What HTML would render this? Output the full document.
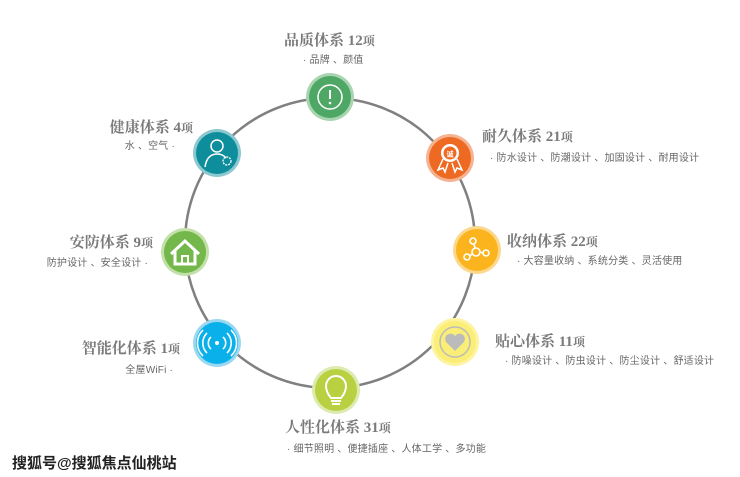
<!DOCTYPE html>
<html><head><meta charset="utf-8"><style>
body{margin:0;width:740px;height:477px;background:#fff;position:relative;overflow:hidden}
.t{position:absolute;font-family:"Liberation Serif","Noto Serif CJK SC",serif;font-weight:bold;font-size:15px;color:#7a7a7a;white-space:nowrap;line-height:18px}
.t small{font-size:12px}
.s{position:absolute;font-family:"Liberation Sans","Noto Sans CJK SC",sans-serif;font-size:10px;letter-spacing:0.2px;color:#666;white-space:nowrap;line-height:12px}
.r{text-align:right}
.wm{position:absolute;left:12px;top:452px;font-family:"Liberation Sans","Noto Sans CJK SC",sans-serif;font-weight:bold;font-size:15px;color:#222;text-shadow:0 0 2px #fff,1px 1px 0 #fff;}
</style></head><body>
<svg width="740" height="477" style="position:absolute;left:0;top:0">
<circle cx="330" cy="243" r="145" fill="none" stroke="#808080" stroke-width="2.5"/>
<circle cx="330" cy="97" r="24" fill="#a8d5b0"/><circle cx="330" cy="97" r="21" fill="#4ea765"/>
<circle cx="330" cy="97" r="12" fill="none" stroke="#fff" stroke-width="1.5"/>
<line x1="330" y1="90" x2="330" y2="99" stroke="#fff" stroke-width="2"/><circle cx="330" cy="103" r="1.3" fill="#fff"/>
<circle cx="217" cy="153" r="24" fill="#8cc8d0"/><circle cx="217" cy="153" r="21" fill="#0e8e9c"/>
<circle cx="217" cy="146" r="6" fill="none" stroke="#fff" stroke-width="1.5"/>
<path d="M205 167 Q207 154 217 154 Q223 154 226 158" fill="none" stroke="#fff" stroke-width="1.5"/>
<circle cx="227" cy="161" r="4" fill="none" stroke="#fff" stroke-width="1.3" stroke-dasharray="2 1"/>
<circle cx="185" cy="252" r="24" fill="#c2e0a8"/><circle cx="185" cy="252" r="21" fill="#74b74a"/>
<path d="M171 254 L185 241 L199 254 M175 251 V264 H195 V251" fill="none" stroke="#fff" stroke-width="3"/>
<rect x="182" y="256" width="6" height="8" fill="none" stroke="#fff" stroke-width="2"/>
<circle cx="217" cy="343" r="24" fill="#9ad8f2"/><circle cx="217" cy="343" r="21" fill="#0ab0ea"/>
<circle cx="217" cy="343" r="2" fill="#fff"/>
<g fill="none" stroke="#fff" stroke-width="1.6">
<path d="M211 337 a8 8 0 0 0 0 12 M223 337 a8 8 0 0 1 0 12"/>
<path d="M207 333 a14 14 0 0 0 0 20 M227 333 a14 14 0 0 1 0 20"/>
<path d="M203 330 a18 18 0 0 0 0 26 M231 330 a18 18 0 0 1 0 26"/></g>
<circle cx="336" cy="390" r="24" fill="#dcebb0"/><circle cx="336" cy="390" r="21" fill="#b9d041"/>
<path d="M331 398 Q326 392 326 386 A10 10 0 1 1 346 386 Q346 392 341 398 Z" fill="none" stroke="#fff" stroke-width="2"/>
<line x1="331" y1="401" x2="341" y2="401" stroke="#fff" stroke-width="2"/><line x1="332" y1="404" x2="340" y2="404" stroke="#fff" stroke-width="2"/>
<circle cx="455" cy="342" r="24" fill="#fdf3a0"/><circle cx="455" cy="342" r="21" fill="#fbee76"/>
<circle cx="455" cy="342" r="15" fill="none" stroke="#bbb" stroke-width="1.5"/>
<path d="M455 351 L446 342 A5 5 0 0 1 455 336 A5 5 0 0 1 464 342 Z" fill="#bbb"/>
<circle cx="477" cy="250" r="24" fill="#fcd88c"/><circle cx="477" cy="250" r="21" fill="#fbb41e"/>
<g fill="none" stroke="#fff" stroke-width="1.6"><circle cx="473" cy="241" r="3"/><circle cx="476" cy="252" r="4"/><circle cx="467" cy="257" r="3"/><circle cx="486" cy="253" r="3"/>
<line x1="474" y1="244" x2="475" y2="248"/><line x1="470" y1="256" x2="472" y2="254"/><line x1="480" y1="252" x2="483" y2="253"/></g>
<circle cx="450" cy="158" r="24" fill="#f6b391"/><circle cx="450" cy="158" r="21" fill="#ee6a22"/>
<circle cx="450" cy="153" r="9" fill="#fff"/><circle cx="450" cy="153" r="6.5" fill="#ee6a22"/>
<path d="M443 159 L438 170 L443 168 L445 172 L448 163 M457 159 L462 170 L457 168 L455 172 L452 163" fill="none" stroke="#fff" stroke-width="1.5"/>
<text x="450" y="156.5" font-size="7" fill="#fff" text-anchor="middle" font-family="Noto Sans CJK SC,sans-serif" font-weight="bold">诚</text>
</svg>
<div class="t" style="left:284px;top:32px">品质体系 12<small>项</small></div>
<div class="s" style="left:303px;top:55px">· 品牌 、颜值</div>
<div class="t r" style="right:547px;top:119px">健康体系 4<small>项</small></div>
<div class="s r" style="right:565px;top:141px">水 、空气 ·</div>
<div class="t r" style="right:587px;top:234px">安防体系 9<small>项</small></div>
<div class="s r" style="right:592px;top:258px">防护设计 、安全设计 ·</div>
<div class="t r" style="right:560px;top:340px">智能化体系 1<small>项</small></div>
<div class="s r" style="right:567px;top:365px">全屋WiFi ·</div>
<div class="t" style="left:285px;top:419px">人性化体系 31<small>项</small></div>
<div class="s" style="left:287px;top:444px">· 细节照明 、便捷插座 、人体工学 、多功能</div>
<div class="t" style="left:495px;top:333px">贴心体系 11<small>项</small></div>
<div class="s" style="left:505px;top:356px">· 防噪设计 、防虫设计 、防尘设计 、舒适设计</div>
<div class="t" style="left:507px;top:233px">收纳体系 22<small>项</small></div>
<div class="s" style="left:517px;top:256px">· 大容量收纳 、系统分类 、灵活使用</div>
<div class="t" style="left:482px;top:128px">耐久体系 21<small>项</small></div>
<div class="s" style="left:490px;top:153px">· 防水设计 、防潮设计 、加固设计 、耐用设计</div>
<div class="wm">搜狐号@搜狐焦点仙桃站</div>
</body></html>
